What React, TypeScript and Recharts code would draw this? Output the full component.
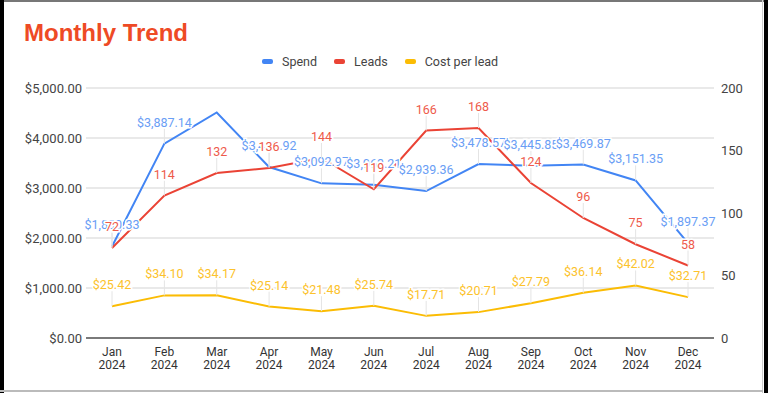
import { LineChart, Line, XAxis, YAxis, CartesianGrid, LabelList } from 'recharts';

const months = ['Jan 2024', 'Feb 2024', 'Mar 2024', 'Apr 2024', 'May 2024', 'Jun 2024', 'Jul 2024', 'Aug 2024', 'Sep 2024', 'Oct 2024', 'Nov 2024', 'Dec 2024'];
const spend = [1830.33, 3887.14, 4510.44, 3418.92, 3092.97, 3063.21, 2939.36, 3478.57, 3445.85, 3469.87, 3151.35, 1897.37];
const leads = [72, 114, 132, 136, 144, 119, 166, 168, 124, 96, 75, 58];
const costPerLead = [25.42, 34.1, 34.17, 25.14, 21.48, 25.74, 17.71, 20.71, 27.79, 36.14, 42.02, 32.71];
const leftTicks = [0, 1000, 2000, 3000, 4000, 5000];
const rightTicks = [0, 50, 100, 150, 200];
// Sheets dropped this label in the original (too close to the top)
const hiddenSpendLabels = ['Mar 2024'];

const BLUE = '#4285f4';
const RED = '#ea4335';
const YELLOW = '#fbbc04';
const FONT = 'Roboto, Arial, sans-serif';

const legendItems = [
  { name: 'Spend', color: BLUE },
  { name: 'Leads', color: RED },
  { name: 'Cost per lead', color: YELLOW },
];

const data = months.map((m, i) => ({
  month: m,
  spend: spend[i],
  leads: leads[i],
  cpl: costPerLead[i],
}));

const money = (v: number) =>
  '$' + v.toLocaleString('en-US', { minimumFractionDigits: 2, maximumFractionDigits: 2 });

const makeLabel = (color: string, fmt: (v: number) => string, hidden: string[] = []) => (props: any) => {
  const { x, y, value, index } = props;
  if (x == null || y == null) return null;
  if (hidden.includes(months[index])) return null;
  return (
    <g>
      <line x1={x} x2={x} y1={y - 15} y2={y} stroke="#e4e4e4" strokeWidth={1} />
      <text
        x={x}
        y={y - 17}
        textAnchor="middle"
        fill={color}
        stroke="#fff"
        strokeWidth={3}
        paintOrder="stroke"
        fontSize={12.5}
        fontFamily={FONT}
      >
        {fmt(value)}
      </text>
    </g>
  );
};

const MonthTick = ({ x, y, payload }: any) => {
  const [m, yr] = String(payload.value).split(' ');
  return (
    <g>
      <text x={x} y={y + 18} textAnchor="middle" fontSize={12} fill="#333" fontFamily={FONT}>{m}</text>
      <text x={x} y={y + 31} textAnchor="middle" fontSize={12} fill="#333" fontFamily={FONT}>{yr}</text>
    </g>
  );
};

export default function App() {
  return (
    <div style={{ position: 'absolute', left: 0, top: 0, width: 768, height: 393, background: '#fff', overflow: 'hidden' }}>
      {/* screenshot frame */}
      <div style={{ position: 'absolute', left: 0, top: 0, width: 768, height: 2, background: '#777' }} />
      <div style={{ position: 'absolute', left: 0, top: 0, width: 4, height: 393, background: '#000' }} />
      <div style={{ position: 'absolute', left: 762, top: 0, width: 1, height: 393, background: '#ccc' }} />
      <div style={{ position: 'absolute', left: 764, top: 0, width: 4, height: 393, background: '#000' }} />
      <div style={{ position: 'absolute', left: 0, top: 390, width: 763, height: 2, background: '#bbb' }} />

      <div style={{ position: 'absolute', left: 24, top: 19, fontFamily: '"Liberation Sans", Arial, sans-serif', fontWeight: 700, fontSize: 24, color: '#ee4a25' }}>
        Monthly Trend
      </div>

      <div style={{ position: 'absolute', left: 262, top: 54, display: 'flex', alignItems: 'center', fontFamily: FONT, fontSize: 12.5, color: '#444' }}>
        {legendItems.map((it) => (
          <div key={it.name} style={{ display: 'flex', alignItems: 'center', marginRight: 17 }}>
            <span style={{ width: 11, height: 5, borderRadius: 2, background: it.color, marginRight: 9 }} />
            <span>{it.name}</span>
          </div>
        ))}
      </div>

      <div style={{ position: 'absolute', left: 0, top: 0 }}>
        <LineChart width={768} height={393} data={data} margin={{ top: 88, right: 4, bottom: 20, left: 0 }}>
          <CartesianGrid yAxisId="left" vertical={false} stroke="#d3d3d3" />
          <XAxis
            dataKey="month"
            height={35}
            padding={{ left: 26, right: 26 }}
            tickLine={false}
            tickSize={0}
            tickMargin={0}
            interval={0}
            axisLine={{ stroke: '#555', strokeWidth: 1.5 }}
            tick={<MonthTick />}
          />
          <YAxis
            yAxisId="left"
            width={86}
            domain={[0, 5000]}
            ticks={leftTicks}
            tickFormatter={money}
            axisLine={false}
            tickLine={false}
            tickSize={2}
            tickMargin={2}
            tick={{ fontSize: 13, fill: '#444', fontFamily: FONT }}
          />
          <YAxis
            yAxisId="right"
            orientation="right"
            width={50}
            domain={[0, 200]}
            ticks={rightTicks}
            axisLine={false}
            tickLine={false}
            tickSize={5}
            tickMargin={2}
            tick={{ fontSize: 13, fill: '#444', fontFamily: FONT, textAnchor: 'start' }}
          />

          <Line yAxisId="left" dataKey="spend" stroke={BLUE} strokeWidth={2} dot={false} activeDot={false} isAnimationActive={false} />
          <Line yAxisId="right" dataKey="leads" stroke={RED} strokeWidth={2} dot={false} activeDot={false} isAnimationActive={false} />
          <Line yAxisId="right" dataKey="cpl" stroke={YELLOW} strokeWidth={2} dot={false} activeDot={false} isAnimationActive={false} />

          {/* label layers drawn above all lines, like Sheets does */}
          <Line yAxisId="right" dataKey="cpl" stroke="none" dot={false} activeDot={false} isAnimationActive={false}>
            <LabelList dataKey="cpl" content={makeLabel('#fcc22c', money)} />
          </Line>
          <Line yAxisId="left" dataKey="spend" stroke="none" dot={false} activeDot={false} isAnimationActive={false}>
            <LabelList dataKey="spend" content={makeLabel('#6a9ef5', money, hiddenSpendLabels)} />
          </Line>
          <Line yAxisId="right" dataKey="leads" stroke="none" dot={false} activeDot={false} isAnimationActive={false}>
            <LabelList dataKey="leads" content={makeLabel('#ee5a4b', (v) => String(v))} />
          </Line>
        </LineChart>
      </div>
    </div>
  );
}
